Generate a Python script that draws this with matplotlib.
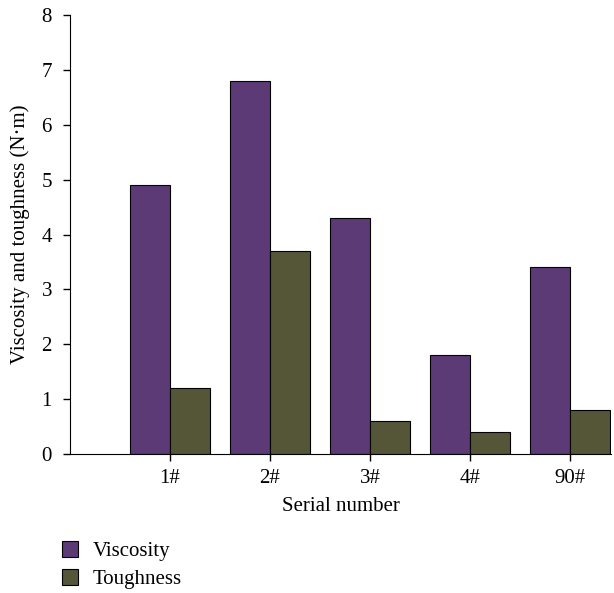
import numpy as np
import matplotlib
matplotlib.use('Agg')
import matplotlib.pyplot as plt

matplotlib.rcParams['font.family'] = 'serif'
matplotlib.rcParams['font.serif'] = ['Liberation Serif', 'DejaVu Serif']

categories = ['1#', '2#', '3#', '4#', '90#']
viscosity = [4.9, 6.8, 4.3, 1.8, 3.4]
toughness = [1.2, 3.7, 0.6, 0.4, 0.8]

purple = '#5b3a75'
olive = '#555638'

fig = plt.figure(figsize=(6.14, 5.93), dpi=100)
ax = fig.add_axes([70 / 614, 139 / 593, 541 / 614, 439 / 593])

x = np.arange(len(categories))
w = 0.4
ax.bar(x - w / 2, viscosity, w, color=purple, edgecolor='black', linewidth=0.8, label='Viscosity')
ax.bar(x + w / 2, toughness, w, color=olive, edgecolor='black', linewidth=0.8, label='Toughness')

ax.set_xlim(-1, 4.41)
ax.set_ylim(0, 8)
ax.set_xticks(x)
ax.set_xticklabels(categories)
ax.set_yticks(range(0, 9))
ax.tick_params(labelsize=15, length=5, width=1)
ax.tick_params(axis='x', pad=6)
ax.tick_params(axis='y', pad=8)
ax.spines['top'].set_visible(False)
ax.spines['right'].set_visible(False)
ax.set_xlabel('Serial number', fontsize=15, labelpad=6)
ax.set_ylabel('Viscosity and toughness (N·m)', fontsize=15, labelpad=8)

fig.legend(loc='upper left', bbox_to_anchor=(0.07, 0.12), frameon=False, fontsize=15,
           handlelength=0.8, handleheight=0.8, handletextpad=0.7, labelspacing=0.4)

fig.savefig('out.png', dpi=100)
